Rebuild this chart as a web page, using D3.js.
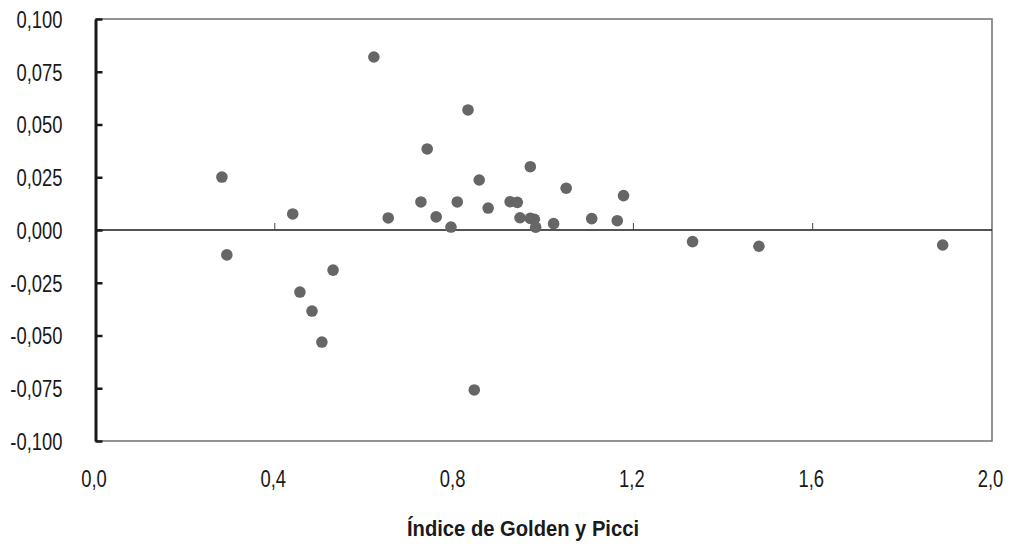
<!DOCTYPE html>
<html>
<head>
<meta charset="utf-8">
<script src="https://cdn.jsdelivr.net/npm/d3@7"></script>
<style>
  body { margin: 0; background: #fff; }
  svg text { font-family: "Liberation Sans", Arial, sans-serif; fill: #1a1a1a; }
</style>
</head>
<body>
<div id="graph"></div>
<script>
// Índice de Golden y Picci (x) vs. residual (y)
const gpIndex = [0.282, 0.293, 0.440, 0.456, 0.483, 0.505, 0.530, 0.621, 0.653, 0.726,
                 0.740, 0.760, 0.793, 0.807, 0.831, 0.845, 0.856, 0.876, 0.970, 0.925,
                 0.941, 0.947, 0.970, 0.979, 0.982, 1.022, 1.050, 1.107, 1.164, 1.178,
                 1.332, 1.480, 1.890];
const yValues = [0.0251, -0.0118, 0.0076, -0.0294, -0.0384, -0.0531, -0.0190, 0.0820, 0.0057, 0.0133,
                 0.0384, 0.0062, 0.0014, 0.0133, 0.0569, -0.0758, 0.0237, 0.0104, 0.0300, 0.0134,
                 0.0131, 0.0058, 0.0055, 0.0051, 0.0013, 0.0030, 0.0198, 0.0054, 0.0044, 0.0163,
                 -0.0055, -0.0077, -0.0071];
const xTicks = [0, 0.4, 0.8, 1.2, 1.6, 2.0];
const yTicks = [-0.1, -0.075, -0.05, -0.025, 0, 0.025, 0.05, 0.075, 0.1];
const xTitle = 'Índice de Golden y Picci';

const w = 1011, h = 547;
const plot_left = 95.5, plot_right = 992, plot_top = 19, plot_bottom = 441;
const squeeze = 0.8;   // condensed look for the labels
const label_size = '23px';

const svg = d3.select('#graph').append('svg')
              .attr('width', w)
              .attr('height', h);

const xScale = d3.scaleLinear().domain([0, 2]).range([plot_left, plot_right]);
const yScale = d3.scaleLinear().domain([-0.1, 0.1]).range([plot_bottom, plot_top]);

const fmtX = d => d3.format('.1f')(d).replace('.', ',');
const fmtY = d => d3.format('.3f')(d).replace('.', ',').replace('−', '-');

// frame (top, right, bottom) in grey
svg.append('path')
   .attr('d', `M${plot_left},${plot_top}H${plot_right}V${plot_bottom}H${plot_left}`)
   .attr('fill', 'none')
   .attr('stroke', '#707070')
   .attr('stroke-width', 1.5);

// zero line with small upward ticks
svg.append('line')
   .attr('x1', plot_left).attr('x2', plot_right)
   .attr('y1', yScale(0)).attr('y2', yScale(0))
   .attr('stroke', '#1a1a1a')
   .attr('stroke-width', 1.3);

svg.append('g').selectAll('line')
   .data(xTicks.filter(d => d > 0 && d < 2))
   .enter().append('line')
   .attr('x1', d => xScale(d)).attr('x2', d => xScale(d))
   .attr('y1', yScale(0)).attr('y2', yScale(0) - 7)
   .attr('stroke', '#444')
   .attr('stroke-width', 1);

// left axis
const yAxis = d3.axisLeft(yScale)
                .tickValues(yTicks)
                .tickFormat(fmtY)
                .tickSizeInner(-7)
                .tickSizeOuter(0);
const gy = svg.append('g')
              .attr('transform', `translate(${plot_left},0)`)
              .call(yAxis);
gy.select('.domain').attr('stroke', '#1a1a1a').attr('stroke-width', 3);
gy.selectAll('.tick line').attr('stroke', '#1a1a1a').attr('stroke-width', 2.5);
gy.selectAll('.tick text')
  .style('font-size', label_size)
  .attr('fill', '#1a1a1a')
  .attr('x', -33 / squeeze)
  .attr('dy', '0.36em')
  .attr('transform', `scale(${squeeze},1)`);

// x labels
svg.append('g').selectAll('text')
   .data(xTicks)
   .enter().append('text')
   .attr('transform', d => `translate(${xScale(d) - 1.5},487) scale(${squeeze},1)`)
   .attr('text-anchor', 'middle')
   .style('font-size', label_size)
   .text(fmtX);

svg.append('text')
   .attr('x', 523)
   .attr('y', 536)
   .attr('text-anchor', 'middle')
   .attr('textLength', 232)
   .attr('lengthAdjust', 'spacingAndGlyphs')
   .style('font-size', '22.5px')
   .style('font-weight', 'bold')
   .text(xTitle);

// points
svg.append('g').selectAll('circle')
   .data(gpIndex.map((d, i) => [d, yValues[i]]))
   .enter().append('circle')
   .attr('cx', d => xScale(d[0]))
   .attr('cy', d => yScale(d[1]))
   .attr('r', 5.8)
   .attr('fill', '#666666');
</script>
</body>
</html>
